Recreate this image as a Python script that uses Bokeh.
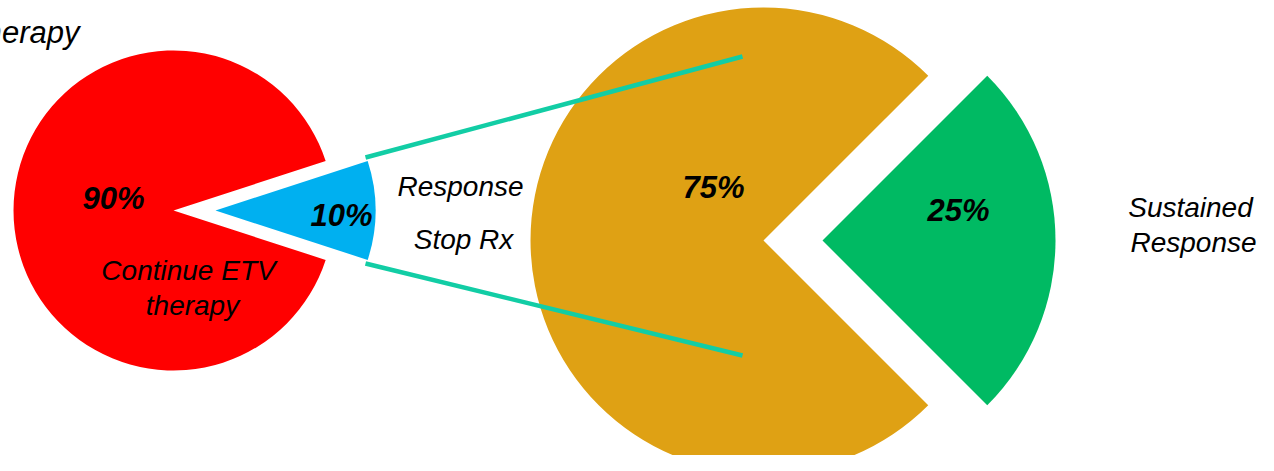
import math
from bokeh.plotting import figure
from bokeh.models import Range1d
from bokeh.embed import file_html
from bokeh.resources import INLINE
from bokeh.core.properties import value

# ---- data ----
left_labels = ["Continue ETV therapy", "Response Stop Rx"]
left_values = [90, 10]
left_colors = ["#FF0000", "#00B0F0"]

right_labels = ["Relapse", "Sustained Response"]
right_values = [75, 25]
right_colors = ["#DFA114", "#00BA63"]

# ---- layout (pixel coordinates of the reference, y downward) ----
W, H = 1258, 455
FONT = "Liberation Sans"
TY = 10  # text baseline correction

p = figure(width=W, height=H, output_backend="svg", toolbar_location=None,
           x_range=Range1d(0, W), y_range=Range1d(-H, 0),
           x_axis_type=None, y_axis_type=None, min_border=0)
p.grid.visible = False
p.outline_line_color = None
p.background_fill_color = "white"


def pie(cx, cy, r, values, colors, explode):
    total = float(sum(values))
    small = values[1] / total * 2 * math.pi
    # main slice spans everything except a gap centred on 0 rad (right)
    p.wedge(x=[cx], y=[-cy], radius=r, start_angle=small / 2,
            end_angle=2 * math.pi - small / 2, fill_color=colors[0],
            line_color=None)
    p.wedge(x=[cx + explode], y=[-cy], radius=r, start_angle=-small / 2,
            end_angle=small / 2, fill_color=colors[1], line_color=None)


pie(173, 210, 160, left_values, left_colors, 42)
pie(763, 240, 233, right_values, right_colors, 59)

# connector lines
p.segment(x0=[365, 365], y0=[-157, -263], x1=[742, 742], y1=[-56, -355],
          line_color="#12CDA5", line_width=4.5)

# percentage labels
pct_text = [f"{left_values[0]}%", f"{left_values[1]}%",
            f"{right_values[0]}%", f"{right_values[1]}%"]
p.text(x=[113, 341, 713, 958], y=[-208 + TY, -225 + TY, -197 + TY, -220 + TY],
       text=pct_text, text_font=value(FONT), text_font_style="bold italic",
       text_font_size="31px", text_align="center",
       text_baseline="alphabetic", text_color="black")

# category labels
cat_lines = ["Continue ETV", "therapy", "Response", "Stop Rx",
             "Sustained", "Response"]
cat_y = [-280, -315, -196, -249, -217, -252]
p.text(x=[188, 192, 460, 463, 1190, 1193],
       y=[v + TY for v in cat_y], text=cat_lines,
       text_font=value(FONT), text_font_style="italic",
       text_font_size="28px", text_align="center",
       text_baseline="alphabetic", text_color="black")

# clipped heading fragment at the top-left
p.text(x=[79], y=[-42 + TY], text=["therapy"], text_font=value(FONT),
       text_font_style="italic", text_font_size="31px", text_align="right",
       text_baseline="alphabetic", text_color="black")

open("out.html", "w").write(file_html(p, INLINE))
